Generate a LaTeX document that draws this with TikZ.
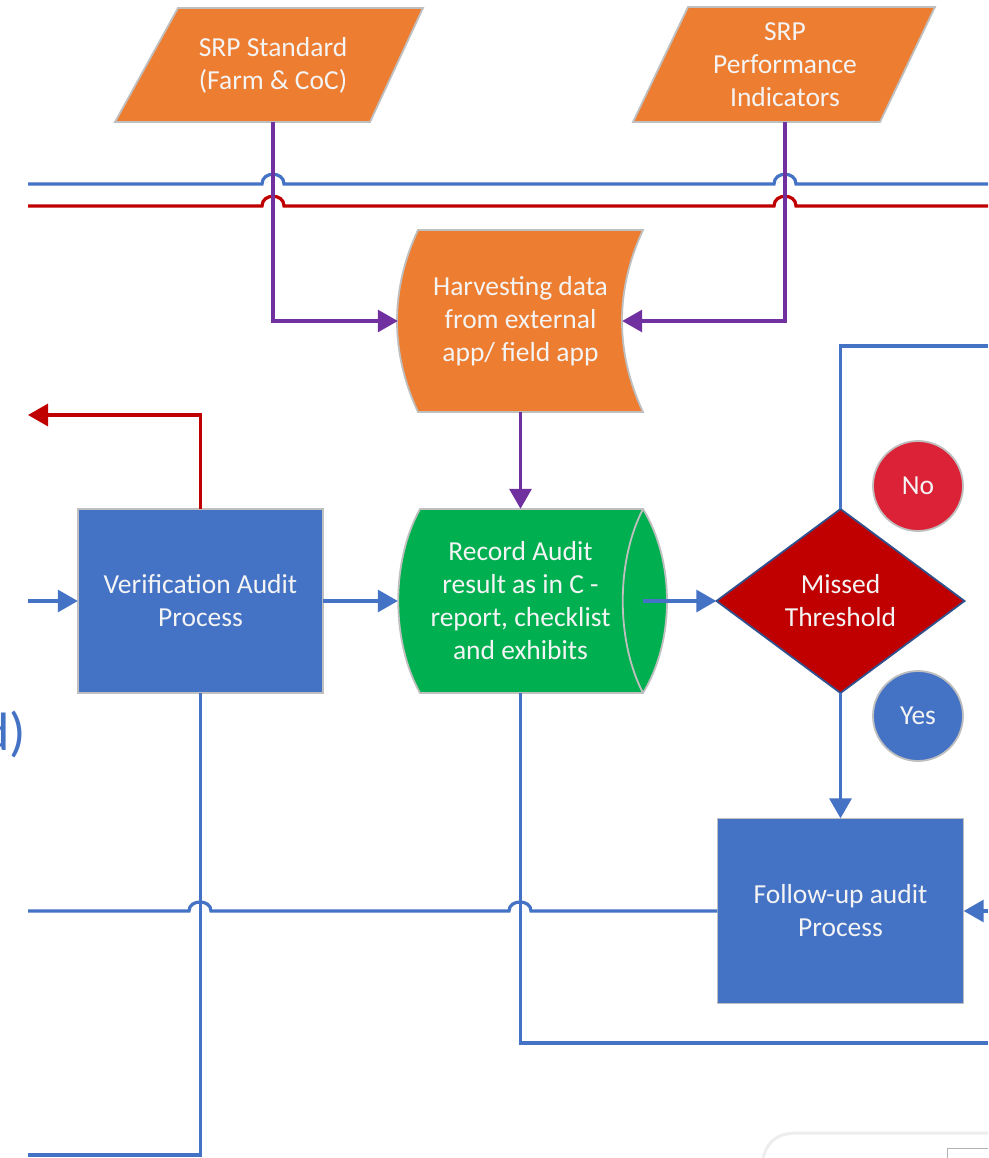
\documentclass[tikz,border=0pt]{standalone}
\usepackage{fontspec}
\setmainfont{Carlito}
\usetikzlibrary{arrows.meta,calc}
\definecolor{orng}{HTML}{ED7D31}
\definecolor{bluef}{HTML}{4472C4}
\definecolor{redl}{HTML}{C00000}
\definecolor{purp}{HTML}{7030A0}
\definecolor{grn}{HTML}{00B050}
\definecolor{nored}{HTML}{DC2237}
\definecolor{edgegray}{HTML}{BFBFBF}
\definecolor{diaedge}{HTML}{2F528F}
\definecolor{txtwhite}{HTML}{F4F4F4}
\tikzset{
  txt/.style={text=txtwhite, align=center, font=\fontsize{27.5}{33}\selectfont, inner sep=0pt},
  box/.style={txt, rectangle},
  conn/.style={line width=3.2pt},
  tip/.style={-{Triangle[length=20pt,width=22pt]}},
  shapeedge/.style={draw=edgegray, line width=1.8pt},
}
\begin{document}
\begin{tikzpicture}[x=1pt,y=-1pt]
\useasboundingbox (0,0) rectangle (988,1158);

% ---------- shapes ----------
\fill[orng, shapeedge] (178,8) -- (423,8) -- (370,122) -- (115,122) -- cycle;
\fill[orng, shapeedge] (688,7) -- (935,7) -- (880,122) -- (633,122) -- cycle;
\fill[orng, shapeedge] (418,230) -- (643,230) .. controls (615,290) and (615,352) .. (643,412)
   -- (418,412) .. controls (390,352) and (390,290) .. (418,230) -- cycle;
\fill[grn, shapeedge] (420,509) -- (643,509) .. controls (675,561) and (675,641) .. (643,693)
   -- (420,693) .. controls (391,641) and (391,561) .. (420,509) -- cycle;
\draw[edgegray, line width=1.8pt] (643,509) .. controls (616,561) and (616,641) .. (643,693);
\fill[bluef, shapeedge] (78,509) rectangle (323,693);
\fill[bluef, shapeedge] (717.5,818.5) rectangle (963.5,1003.5);
\fill[redl, draw=diaedge, line width=1.8pt] (840.5,509) -- (964.5,601) -- (840.5,693) -- (716.5,601) -- cycle;

% ---------- text nodes ----------
\node[box, minimum width=250pt, minimum height=114pt] (std) at (273,65) {SRP Standard\\(Farm \& CoC)};
\node[box, minimum width=247pt, minimum height=115pt] (perf) at (785,64.5) {SRP\\Performance\\Indicators};
\node[box, minimum width=245pt, minimum height=182pt] (harv) at (520.5,321) {Harvesting data\\from external\\app/ field app};
\node[box, minimum width=245pt, minimum height=184pt] (rec) at (520.5,601) {Record Audit\\result as in C -\\report, checklist\\and exhibits};
\node[box, minimum width=245pt, minimum height=184pt] (ver) at (200.5,601) {Verification Audit\\Process};
\node[box, minimum width=248pt, minimum height=184pt] (dia) at (840.5,601) {Missed\\Threshold};
\node[box, minimum width=246pt, minimum height=185pt] (fol) at (840.5,911) {Follow-up audit\\Process};
\node[txt, circle, fill=nored, draw=edgegray, line width=1.8pt, minimum size=90pt] (no) at (918,486) {No};
\node[txt, circle, fill=bluef, draw=edgegray, line width=1.8pt, minimum size=90pt] (yes) at (918,716) {Yes};
\node[anchor=east, text=bluef, font=\fontsize{54}{58}\selectfont, inner sep=0pt] (dlabel) at (26,734) {d)};

% ---------- free ends ----------
\coordinate (blueL) at (28,184);
\coordinate (redL) at (28,206);
\coordinate (inL) at (28,601);
\coordinate (outL) at (28,415);
\coordinate (noR) at (988,346);
\coordinate (inR) at (988,911);
\coordinate (recR) at (988,1043);
\coordinate (verL) at (28,1155);
\coordinate (folL) at (28,911);

% ---------- top horizontal lines with hops ----------
\draw[conn, bluef] (blueL) -- (262,184) .. controls (262,171) and (284,171) .. (284,184)
   -- (774,184) .. controls (774,171) and (796,171) .. (796,184) -- (988,184);
\draw[conn, redl] (redL) -- (262,206) .. controls (262,193) and (284,193) .. (284,206)
   -- (774,206) .. controls (774,193) and (796,193) .. (796,206) -- (988,206);

% ---------- purple connectors ----------
\draw[conn, purp, tip] (std.south) |- (harv.west);
\draw[conn, purp, tip] (perf.south) |- ($(harv.east)+(-21,0)$);
\draw[conn, purp, tip] (harv.south) -- (rec.north);

% ---------- main flow ----------
\draw[conn, bluef, tip] (inL) -- (ver.west);
\draw[conn, redl, tip] (ver.north) |- (outL);
\draw[conn, bluef, tip] (ver.east) -- (rec.west);
\draw[conn, bluef, tip] (rec.east) -- (dia.west);
\draw[conn, bluef] (dia.north) |- (noR);
\draw[conn, bluef, tip] (dia.south) -- (fol.north);
\draw[conn, bluef, tip] (inR) -- (fol.east);

% follow-up left line with hops
\draw[conn, bluef] (fol.west) -- (531,911) .. controls (531,899) and (509,899) .. (509,911)
   -- (211,911) .. controls (211,899) and (189,899) .. (189,911) -- (folL);
\draw[conn, bluef] (rec.south) |- (recR);
\draw[conn, bluef] (ver.south) |- (verL);

% faint UI artefact at bottom right
\draw[black!7, line width=3pt] (763,1158) .. controls (768,1140) and (778,1133) .. (798,1133) -- (988,1133);
\draw[black!30, line width=1pt] (947,1158) -- (947,1148) -- (988,1148);
\end{tikzpicture}
\end{document}
